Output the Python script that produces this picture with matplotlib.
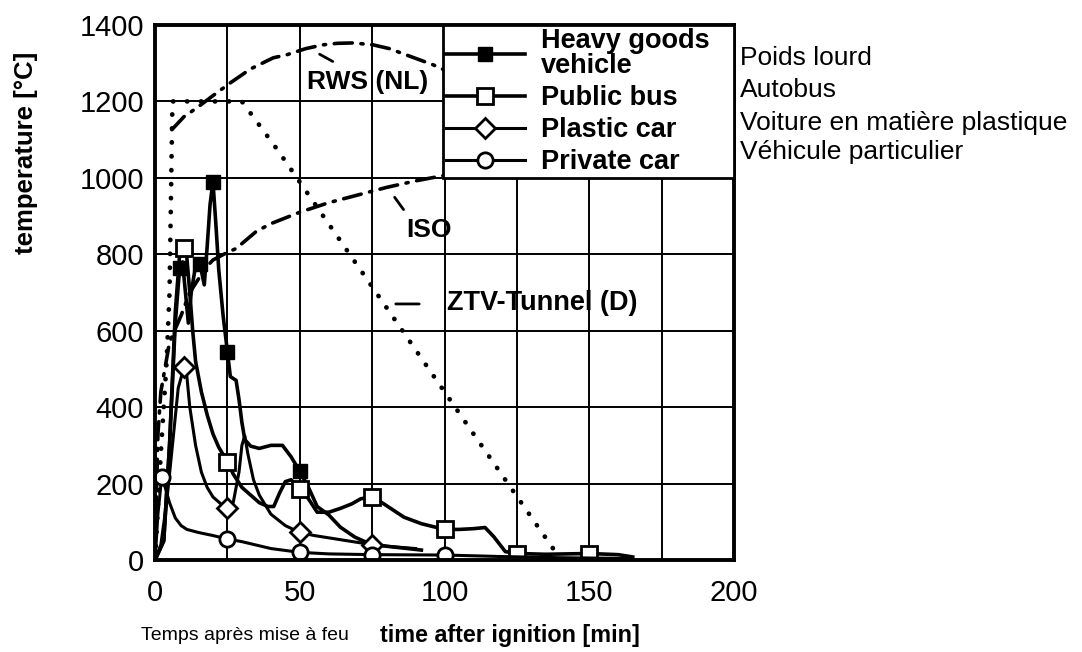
import numpy as np
import matplotlib
matplotlib.use('Agg')
import matplotlib.pyplot as plt

plt.rcParams['font.family'] = ['Liberation Sans', 'DejaVu Sans']

# standard fire curves
rws_t = [5.8, 10, 14.4, 20, 25.9, 33, 40.8, 45.5, 52, 58, 63, 68.4, 75.3, 81, 87, 96, 102]
rws_T = [1126, 1160, 1183, 1215, 1248, 1285, 1314, 1322, 1338, 1348, 1352, 1353, 1348, 1338, 1321, 1296, 1275]

iso_t = [0, 1, 2, 5, 9, 12, 17.5, 20, 25, 28, 35, 40, 50, 60, 70, 80, 90, 99, 110]
iso_T = [20, 330, 440, 570, 640, 700, 765, 785, 805, 815, 860, 880, 910, 935, 955, 975, 992, 1005, 1020]

ztv_t = [0, 2, 4, 5, 5.5, 5.8, 6, 30, 42.6, 80, 110, 137.5, 140]
ztv_T = [0, 280, 520, 700, 950, 1100, 1200, 1200, 1070, 660, 330, 30, 0]

# vehicle fires
hgv_t = [0, 3, 5, 7, 8.5, 9.5, 10.5, 11.5, 12.5, 14, 15.5, 17, 18, 19, 20, 21, 22, 23.5, 25,
         26, 28, 29, 30, 31, 33, 36, 40, 44, 47, 50, 53, 56, 60, 64, 69, 74, 80, 92]
hgv_T = [0, 50, 300, 620, 765, 780, 700, 620, 700, 770, 775, 720, 820, 930, 990, 880, 760, 640, 545,
         480, 470, 420, 360, 315, 298, 292, 300, 300, 270, 232, 190, 140, 118, 86, 60, 43, 36, 26]
hgv_marks = [8.5, 15.5, 20, 25, 50]

bus_t = [0, 3, 5, 7, 8.5, 10, 11, 12, 13, 14, 16, 18, 20, 22, 25, 27, 30, 33, 36, 39, 41, 43, 45,
         47, 50, 53, 56, 60, 64, 68, 71, 75, 79, 86, 92, 100, 105, 110, 114, 117, 121, 125, 135, 150,
         160, 165]
bus_T = [0, 50, 300, 650, 800, 816, 790, 700, 600, 520, 440, 380, 330, 295, 257, 225, 190, 170, 150,
         140, 140, 175, 205, 210, 185, 160, 125, 125, 135, 147, 160, 166, 147, 112, 95, 80, 80, 82, 85,
         61, 22, 17, 15, 17, 14, 8]
bus_marks = [10, 25, 50, 75, 100, 125, 150]

plastic_t = [0, 2, 4, 6, 8, 10, 11, 12, 14, 16, 18, 20, 23, 25, 27, 29, 30, 31, 32, 34, 36, 40, 45,
             50, 55, 60, 65, 70, 75, 80, 85, 90]
plastic_T = [0, 40, 150, 300, 450, 504, 480, 400, 300, 230, 190, 165, 145, 135, 150, 230, 300, 325,
             280, 210, 170, 120, 90, 72, 64, 58, 52, 46, 40, 36, 33, 30]
plastic_marks = [10, 25, 50, 75]

private_t = [0, 1, 2.3, 3.5, 5, 7, 9, 11, 15, 20, 25, 30, 40, 50, 60, 75, 100, 120, 140, 165]
private_T = [0, 120, 218, 190, 150, 110, 90, 80, 72, 64, 55, 48, 30, 20, 16, 14, 13, 9, 6, 4]
private_marks = [2.3, 25, 50, 75, 100]

fig = plt.figure(figsize=(10.82, 6.52), dpi=100)
ax = fig.add_axes([0.1433, 0.1411, 0.5351, 0.8206])

ax.set_xlim(0, 200)
ax.set_ylim(0, 1400)
ax.set_xticks([0, 50, 100, 150, 200])
ax.set_xticks(np.arange(0, 201, 25), minor=True)
ax.set_yticks(np.arange(0, 1401, 200))
ax.grid(True, which='both', color='black', linewidth=1.4)
ax.set_axisbelow(True)
ax.tick_params(which='both', length=0)
ax.tick_params(axis='x', labelsize=21, pad=14)
ax.tick_params(axis='y', labelsize=21, pad=8)
for s in ax.spines.values():
    s.set_linewidth(2.8)

dashdot = (0, (5, 2.4, 0.6, 2.4))
ax.plot(rws_t, rws_T, color='black', lw=2.6, linestyle=dashdot, dash_capstyle='round')
ax.plot(iso_t, iso_T, color='black', lw=2.6, linestyle=dashdot, dash_capstyle='round')
ax.plot(ztv_t, ztv_T, color='black', lw=3.4, linestyle=(0, (0.05, 2.9)),
        dash_capstyle='round')


def idx(ts, marks):
    return [ts.index(m) for m in marks]


h1, = ax.plot(hgv_t, hgv_T, color='black', lw=2.6, marker='s', ms=10, mfc='black', mec='black',
              markevery=idx(hgv_t, hgv_marks), label='Heavy goods\nvehicle')
h2, = ax.plot(bus_t, bus_T, color='black', lw=2.6, marker='s', ms=11, mfc='white', mec='black',
              mew=2, markevery=idx(bus_t, bus_marks), label='Public bus')
h3, = ax.plot(plastic_t, plastic_T, color='black', lw=2.2, marker='D', ms=10, mfc='white',
              mec='black', mew=2, markevery=idx(plastic_t, plastic_marks), label='Plastic car')
h4, = ax.plot(private_t, private_T, color='black', lw=2.2, marker='o', ms=11, mfc='white',
              mec='black', mew=2, markevery=idx(private_t, private_marks), label='Private car')

ax.annotate('', xy=(56, 1327), xytext=(62.2, 1301),
            arrowprops=dict(arrowstyle='-', color='black', lw=2))
ax.text(73.5, 1251, 'RWS (NL)', fontsize=19, fontweight='bold', ha='center', va='center')
ax.annotate('', xy=(82.2, 955), xytext=(86.4, 911),
            arrowprops=dict(arrowstyle='-', color='black', lw=2))
ax.text(94.5, 864, 'ISO', fontsize=19, fontweight='bold', ha='center', va='center')
ax.annotate('', xy=(82.2, 670), xytext=(92.2, 670),
            arrowprops=dict(arrowstyle='-', color='black', lw=2))
ax.text(101, 672, 'ZTV-Tunnel (D)', fontsize=19.5, fontweight='bold', ha='left', va='center')

leg = ax.legend(handles=[h1, h2, h3, h4], loc='upper left',
                bbox_to_anchor=(0.497, 0.0, 0.503, 1.0), mode='expand',
                borderaxespad=0, fancybox=False, edgecolor='black', framealpha=1,
                prop={'weight': 'bold', 'size': 19.5}, handlelength=2.9, labelspacing=0.22,
                borderpad=0.12, handletextpad=0.6)
for t in leg.get_texts():
    t.set_linespacing(0.95)
leg.get_frame().set_linewidth(2)
leg.set_zorder(5)

fig.text(0.024, 0.765, 'temperature [°C]', rotation=90, fontsize=18.5, fontweight='bold',
         ha='center', va='center')
fig.text(0.13, 0.025, 'Temps après mise à feu', fontsize=14, ha='left', va='center')
fig.text(0.351, 0.025, 'time after ignition [min]', fontsize=16.8, fontweight='bold',
         ha='left', va='center')

for y, s in zip([0.911, 0.862, 0.811, 0.767],
                ['Poids lourd', 'Autobus', 'Voiture en matière plastique',
                 'Véhicule particulier']):
    fig.text(0.684, y, s, fontsize=19, ha='left', va='center')

fig.savefig('out.png', dpi=100)
